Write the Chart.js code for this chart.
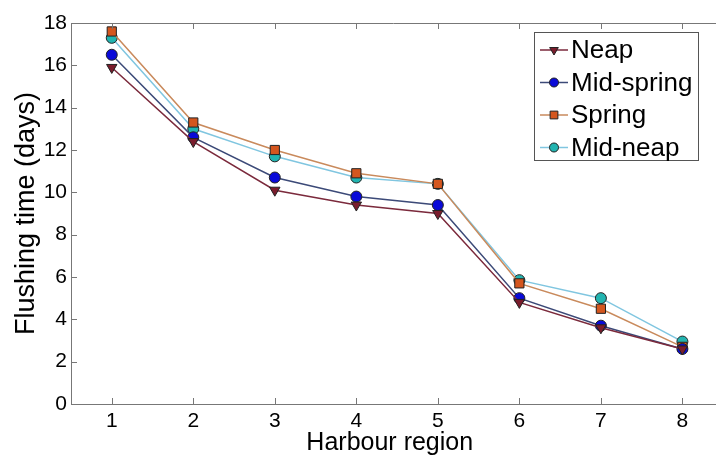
<!DOCTYPE html>
<html>
<head>
<meta charset="utf-8">
<script src="https://cdn.jsdelivr.net/npm/chart.js@4.4.1/dist/chart.umd.min.js"></script>
<style>
  html, body { margin: 0; padding: 0; background: #fff; }
  #wrap { width: 716px; height: 458px; }
</style>
</head>
<body>
<div id="wrap"><canvas id="chart"></canvas></div>
<script>
const regions = [1, 2, 3, 4, 5, 6, 7, 8];
const neap = [15.9, 12.4, 10.1, 9.4, 9.0, 4.8, 3.6, 2.6];
const midSpring = [16.5, 12.6, 10.7, 9.8, 9.4, 5.0, 3.7, 2.6];
const spring = [17.6, 13.3, 12.0, 10.9, 10.4, 5.7, 4.5, 2.7];
const midNeap = [17.3, 13.0, 11.7, 10.7, 10.4, 5.85, 5.0, 2.95];
const yTicks = [0, 2, 4, 6, 8, 10, 12, 14, 16, 18];

const FONT = 'Liberation Sans, Arial, sans-serif';

function pts(vals) {
  return regions.map((r, i) => ({ x: r, y: vals[i] }));
}

function series(label, vals, line, fill, shape, radius, rot) {
  return {
    label: label,
    data: pts(vals),
    borderColor: line,
    borderWidth: 1.5,
    pointBackgroundColor: fill,
    pointBorderColor: '#222',
    pointBorderWidth: 1,
    pointStyle: shape,
    pointRadius: radius,
    pointRotation: rot || 0,
    tension: 0
  };
}

// inward tick marks + top border, matlab style
const boxTicks = {
  id: 'boxTicks',
  afterDraw(chart) {
    const ctx = chart.ctx;
    const a = chart.chartArea;
    const x = chart.scales.x, y = chart.scales.y;
    ctx.save();
    ctx.strokeStyle = '#777';
    ctx.lineWidth = 1;
    ctx.beginPath();
    ctx.moveTo(a.left, a.top + 0.5);
    ctx.lineTo(chart.width, a.top + 0.5);
    regions.forEach(r => {
      const px = Math.round(x.getPixelForValue(r)) + 0.5;
      ctx.moveTo(px, a.bottom); ctx.lineTo(px, a.bottom - 6);
      ctx.moveTo(px, a.top); ctx.lineTo(px, a.top + 6);
    });
    yTicks.forEach(v => {
      const py = Math.round(y.getPixelForValue(v)) + 0.5;
      ctx.moveTo(a.left, py); ctx.lineTo(a.left + 6, py);
    });
    // axis line runs on past the crop at the right
    const by = Math.round(a.bottom) + 0.5;
    ctx.moveTo(a.right, by); ctx.lineTo(chart.width, by);
    ctx.stroke();
    ctx.restore();
  }
};

// legend box inside the plot, top right
const boxLegend = {
  id: 'boxLegend',
  afterDraw(chart) {
    const ctx = chart.ctx;
    const left = 534, top = 32, w = 164, h = 128;
    ctx.save();
    ctx.fillStyle = '#fff';
    ctx.fillRect(left, top, w, h);
    ctx.strokeStyle = '#555';
    ctx.lineWidth = 1;
    ctx.strokeRect(left + 0.5, top + 0.5, w, h);
    ctx.font = '26px ' + FONT;
    ctx.textBaseline = 'middle';
    chart.data.datasets.forEach((ds, i) => {
      const cy = top + 18 + i * 32.5;
      ctx.strokeStyle = ds.borderColor;
      ctx.lineWidth = 1.5;
      ctx.beginPath();
      ctx.moveTo(left + 6, cy);
      ctx.lineTo(left + 34, cy);
      ctx.stroke();
      ctx.fillStyle = ds.pointBackgroundColor;
      ctx.strokeStyle = ds.pointBorderColor;
      ctx.lineWidth = 1;
      Chart.helpers.drawPoint(ctx, {
        pointStyle: ds.pointStyle,
        radius: ds.pointRadius - 1,
        rotation: ds.pointRotation,
        borderWidth: 1
      }, left + 20, cy);
      ctx.fillStyle = '#000';
      ctx.fillText(ds.label, left + 37, cy + 1);
    });
    ctx.restore();
  }
};

new Chart(document.getElementById('chart'), {
  type: 'line',
  data: {
    datasets: [
      series('Neap', neap, '#7b2a3c', '#7a1c2c', 'triangle', 6, 180),
      series('Mid-spring', midSpring, '#3c4a78', '#0a0ad8', 'circle', 5.5),
      series('Spring', spring, '#c98a5c', '#d4561e', 'rect', 6.5),
      series('Mid-neap', midNeap, '#80c6e0', '#22b4b0', 'circle', 5.5)
    ]
  },
  plugins: [boxTicks, boxLegend],
  options: {
    responsive: true,
    maintainAspectRatio: false,
    animation: false,
    layout: { padding: { top: 23, right: 0, left: 1, bottom: 0 } },
    plugins: { legend: { display: false }, tooltip: { enabled: false } },
    scales: {
      x: {
        type: 'linear',
        min: 0.5,
        max: 8.32,
        afterBuildTicks(scale) { scale.ticks = regions.map(v => ({ value: v })); },
        afterFit(scale) { scale.height = 54; },
        grid: { display: false, drawTicks: false },
        border: { display: true, color: '#777', width: 1 },
        ticks: { color: '#000', font: { family: FONT, size: 21 }, padding: 5, maxRotation: 0 },
        title: { display: true, text: 'Harbour region', color: '#000', font: { family: FONT, size: 25 }, padding: { top: 0, bottom: 0 } }
      },
      y: {
        min: 0,
        max: 18,
        afterBuildTicks(scale) { scale.ticks = yTicks.map(v => ({ value: v })); },
        afterFit(scale) { scale.width = 70; },
        grid: { display: false, drawTicks: false },
        border: { display: true, color: '#777', width: 1 },
        ticks: { color: '#000', font: { family: FONT, size: 21 }, padding: 4 },
        title: { display: true, text: 'Flushing time (days)', color: '#000', font: { family: FONT, size: 27 }, padding: { top: 9, bottom: 0 } }
      }
    }
  }
});
</script>
</body>
</html>
